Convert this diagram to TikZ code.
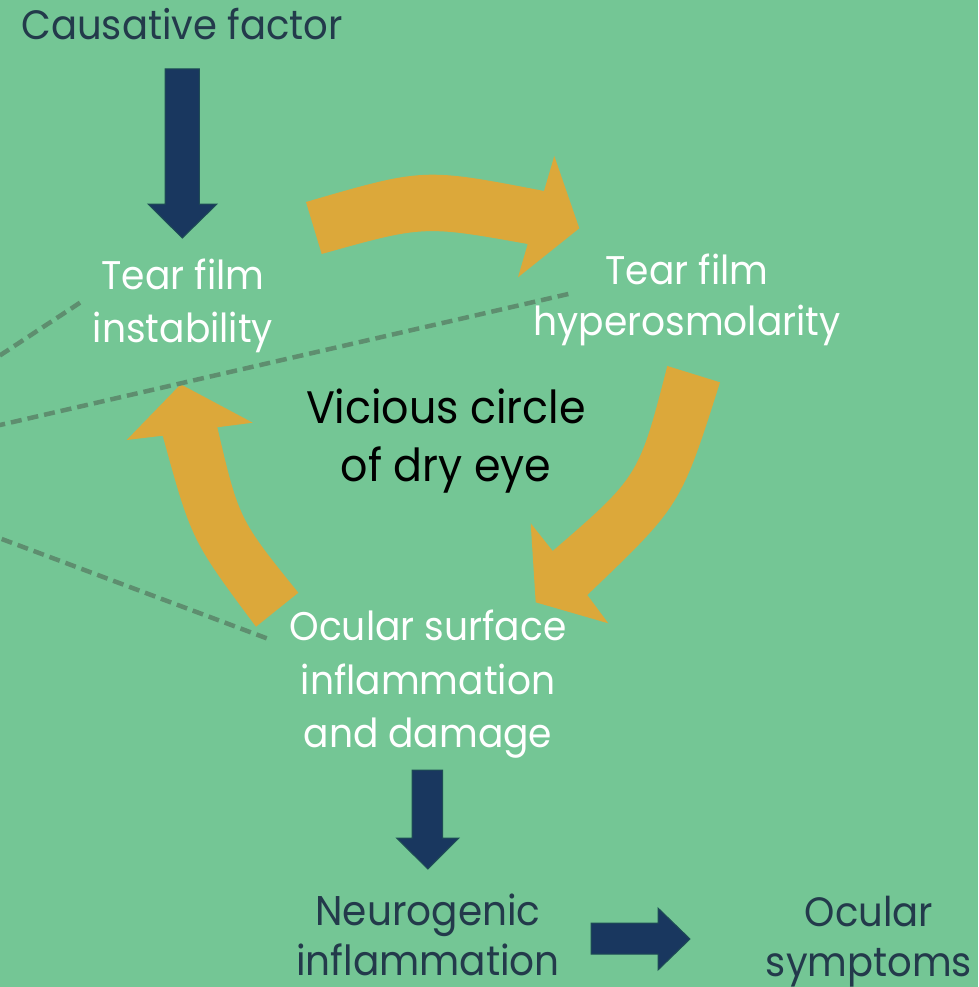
\documentclass[tikz,border=0pt]{standalone}
\usepackage{fontspec}
\setmainfont{Poppins}
\newfontfamily\pop[FakeStretch=0.94]{Poppins}
\definecolor{bg}{HTML}{74C695}
\definecolor{orng}{HTML}{DCA83A}
\definecolor{navy}{HTML}{19375F}
\definecolor{navyedge}{HTML}{1E4D55}
\definecolor{dash}{HTML}{5E8E6F}
\definecolor{darktext}{HTML}{233A4B}
\tikzset{
  lbl/.style={align=center, anchor=base, inner sep=0pt, font=\pop\fontsize{40}{53.5}\selectfont},
  whitelbl/.style={lbl, text=white},
  darklbl/.style={lbl, text=darktext},
  blockarrow/.style={fill=navy, draw=navyedge, line width=1pt},
  cyclearrow/.style={fill=orng},
  dashline/.style={draw=dash, line width=4.5pt, dash pattern=on 11pt off 6pt}
}
\begin{document}
\begin{tikzpicture}[x=1pt,y=-1pt]
\fill[bg] (0,0) rectangle (978,987);
\useasboundingbox (0,0) rectangle (978,987);
\clip (0,0) rectangle (978,987);

% orange cycle arrows
\fill[cyclearrow] (306,202) .. controls (423.7,167.7) .. (544,191) -- (554.3,156) -- (579.3,228.3) -- (518,277.3) -- (527.7,244) .. controls (423.7,225.4) .. (321.7,254) -- cycle;
\fill[cyclearrow] (667.3,366) -- (720,382.3) .. controls (680.8,505.6) .. (587.3,595) -- (608.3,623.3) -- (535.7,602.3) -- (530.7,523.3) -- (552.7,551) .. controls (638.9,476.4) .. (667.3,366) -- cycle;
\fill[cyclearrow] (256,626.7) .. controls (191.4,540) .. (162.7,435.7) -- (126.7,440) -- (180.7,384.3) -- (252.7,422.7) -- (217.3,427.3) .. controls (238.9,519.2) .. (298.3,592.7) -- cycle;

% dashed lines
\coordinate (d1a) at (80,302.7);
\coordinate (d1b) at (-10,362);
\coordinate (d2a) at (568.3,294);
\coordinate (d2b) at (-10,427.3);
\coordinate (d3a) at (266.7,638.3);
\coordinate (d3b) at (-10,534.6);
\draw[dashline] (d1a) -- (d1b);
\draw[dashline] (d2a) -- (d2b);
\draw[dashline] (d3a) -- (d3b);

% navy block arrows
\draw[blockarrow] (165,69) -- (199.3,69) -- (199.3,204) -- (217,204) -- (182.3,238) -- (148,204) -- (165,204) -- cycle;
\draw[blockarrow] (412,770) -- (442.5,770) -- (442.5,838) -- (459,838) -- (427.8,869) -- (396.6,838) -- (412,838) -- cycle;
\draw[blockarrow] (591,923) -- (658,923) -- (658,908) -- (690,939) -- (658,970) -- (658,954) -- (591,954) -- cycle;

% labels (anchor = baseline of the last line)
\node[darklbl, font=\pop\fontsize{41}{52}\selectfont] (cause) at (182,40) {Causative factor};
\node[whitelbl] (tfi) at (183,342.7) {Tear film\\instability};
\node[whitelbl, font=\pop\fontsize{40}{51}\selectfont] (tfh) at (687,335) {Tear film\\hyperosmolarity};
\node[lbl, text=black, font=\pop\fontsize{45.5}{58}\selectfont] (vicious) at (446,481.7) {Vicious circle\\of dry eye};
\node[whitelbl] (osi) at (428,747.5) {Ocular surface\\inflammation\\and damage};
\node[darklbl, font=\pop\fontsize{41.5}{49.5}\selectfont] (neuro) at (428,975) {Neurogenic\\inflammation};
\node[darklbl, font=\pop\fontsize{41}{49.5}\selectfont] (symp) at (869,976) {Ocular\\symptoms};
\end{tikzpicture}
\end{document}
